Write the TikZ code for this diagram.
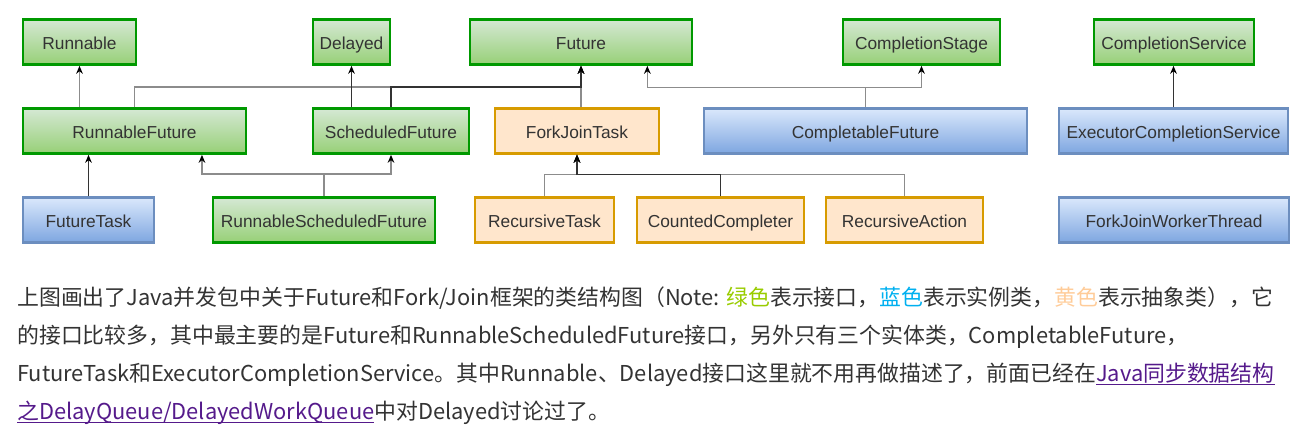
\documentclass[tikz,border=0pt]{standalone}
\usepackage{fontspec}
\newfontfamily\boxfont{Liberation Sans}
\newfontfamily\cjkfont{Noto Sans CJK SC}
\usetikzlibrary{arrows.meta}
\definecolor{ifaceline}{HTML}{009900}
\definecolor{ifacetop}{HTML}{D5E8D4}
\definecolor{ifacebot}{HTML}{97D077}
\definecolor{implline}{HTML}{6C8EBF}
\definecolor{impltop}{HTML}{DAE8FC}
\definecolor{implbot}{HTML}{7EA6E0}
\definecolor{absline}{HTML}{D79B00}
\definecolor{absfill}{HTML}{FFE6CC}
\definecolor{txt}{HTML}{333333}
\definecolor{linkc}{HTML}{551A8B}
\definecolor{notegreen}{HTML}{99CC00}
\definecolor{noteblue}{HTML}{00B0F0}
\definecolor{noteyellow}{HTML}{FFCC99}
\newcommand\linku[1]{\leavevmode\setbox0\hbox{#1}\rlap{\rule[-2.8pt]{\wd0}{0.9pt}}\box0}
\begin{document}
\begin{tikzpicture}[
    x=0.75pt, y=-0.75pt,
    box/.style={minimum height=33.75pt, inner sep=1pt, text height=12.5pt, text depth=1.5pt, font=\boxfont\fontsize{13}{15}\selectfont, text=txt},
    iface/.style={box, draw=ifaceline, line width=2pt, top color=ifacetop, bottom color=ifacebot},
    impl/.style={box, draw=implline, line width=1.6pt, top color=impltop, bottom color=implbot},
    abstr/.style={box, draw=absline, line width=1.8pt, fill=absfill},
    edge/.style={draw=black!45, line width=1.1pt, -{Stealth[length=6pt, width=5pt, color=black]}},
    darkedge/.style={edge, draw=black!80},
    textline/.style={anchor=base west, inner sep=0pt, font=\cjkfont\fontsize{16.4}{18}\selectfont, text=txt}
]
    \useasboundingbox (0,0) rectangle (1307,432);

    \node [iface, minimum width=84.75pt] (run) at (79.5,42) {Runnable};
    \node [iface, minimum width=57.75pt] (del) at (351.5,42) {Delayed};
    \node [iface, minimum width=166.5pt] (fut) at (581,42) {Future};
    \node [iface, minimum width=117.75pt] (cst) at (921.5,42) {CompletionStage};
    \node [iface, minimum width=120pt] (csv) at (1174,42) {CompletionService};

    \node [iface, minimum width=167.25pt] (rf) at (134.5,131) {RunnableFuture};
    \node [iface, minimum width=117pt] (sf) at (391,131) {ScheduledFuture};
    \node [abstr, minimum width=123pt] (fjt) at (577,131) {ForkJoinTask};
    \node [impl, minimum width=242.25pt] (cf) at (865.5,131) {CompletableFuture};
    \node [impl, minimum width=171.75pt] (ecs) at (1173.5,131) {ExecutorCompletionService};

    \node [impl, minimum width=98.25pt] (ft) at (88.5,220) {FutureTask};
    \node [iface, minimum width=166.5pt] (rsf) at (324,220) {RunnableScheduledFuture};
    \node [abstr, minimum width=104.25pt] (rt) at (544.5,220) {RecursiveTask};
    \node [abstr, minimum width=125.25pt] (cc) at (720.5,220) {CountedCompleter};
    \node [abstr, minimum width=117.75pt] (ra) at (904.5,220) {RecursiveAction};
    \node [impl, minimum width=172.5pt] (fjwt) at (1174,220) {ForkJoinWorkerThread};

    \draw [edge] (rf.north -| run) -- (run.south);
    \draw [edge] (rf.north) -- ++(0,-20) -| (fut.south);
    \draw [edge] (fjt.north -| fut) -- (fut.south);
    \draw [edge] (cf.north) -- ++(0,-20) -| ([xshift=-34.5pt]fut.south east);
    \draw [edge] (cf.north) -- ++(0,-20) -| (cst.south);
    \draw [darkedge] (sf.north -| del) -- (del.south);
    \draw [darkedge] (sf.north) -- ++(0,-20) -| (fut.south);
    \draw [darkedge] (ecs.north) -- (ecs.north |- csv.south);
    \draw [darkedge] (ft.north) -- (ft.north |- rf.south);
    \draw [edge] (rsf.north) -- ++(0,-22) -| ([xshift=50.6pt]rf.south);
    \draw [edge] (rsf.north) -- ++(0,-22) -| (sf.south);
    \draw [edge] (rt.north) -- ++(0,-22) -| (fjt.south);
    \draw [edge] (ra.north) -- ++(0,-22) -| (fjt.south);
    \draw [darkedge] (cc.north) -- ++(0,-22) -| (fjt.south);

    \node [textline] (line1) at (17,305) {上图画出了Java并发包中关于Future和Fork/Join框架的类结构图（Note: {\color{notegreen}绿色}表示接口，{\color{noteblue}蓝色}表示实例类，{\color{noteyellow}黄色}表示抽象类），它};
    \node [textline] (line2) at (17,343) {的接口比较多，其中最主要的是Future和RunnableScheduledFuture接口，另外只有三个实体类，CompletableFuture，};
    \node [textline] (line3) at (17,381) {FutureTask和ExecutorCompletionService。其中Runnable、Delayed接口这里就不用再做描述了，前面已经在{\color{linkc}\linku{Java同步数据结构}}};
    \node [textline] (line4) at (17,419) {{\color{linkc}\linku{之DelayQueue/DelayedWorkQueue}}中对Delayed讨论过了。};
\end{tikzpicture}
\end{document}
